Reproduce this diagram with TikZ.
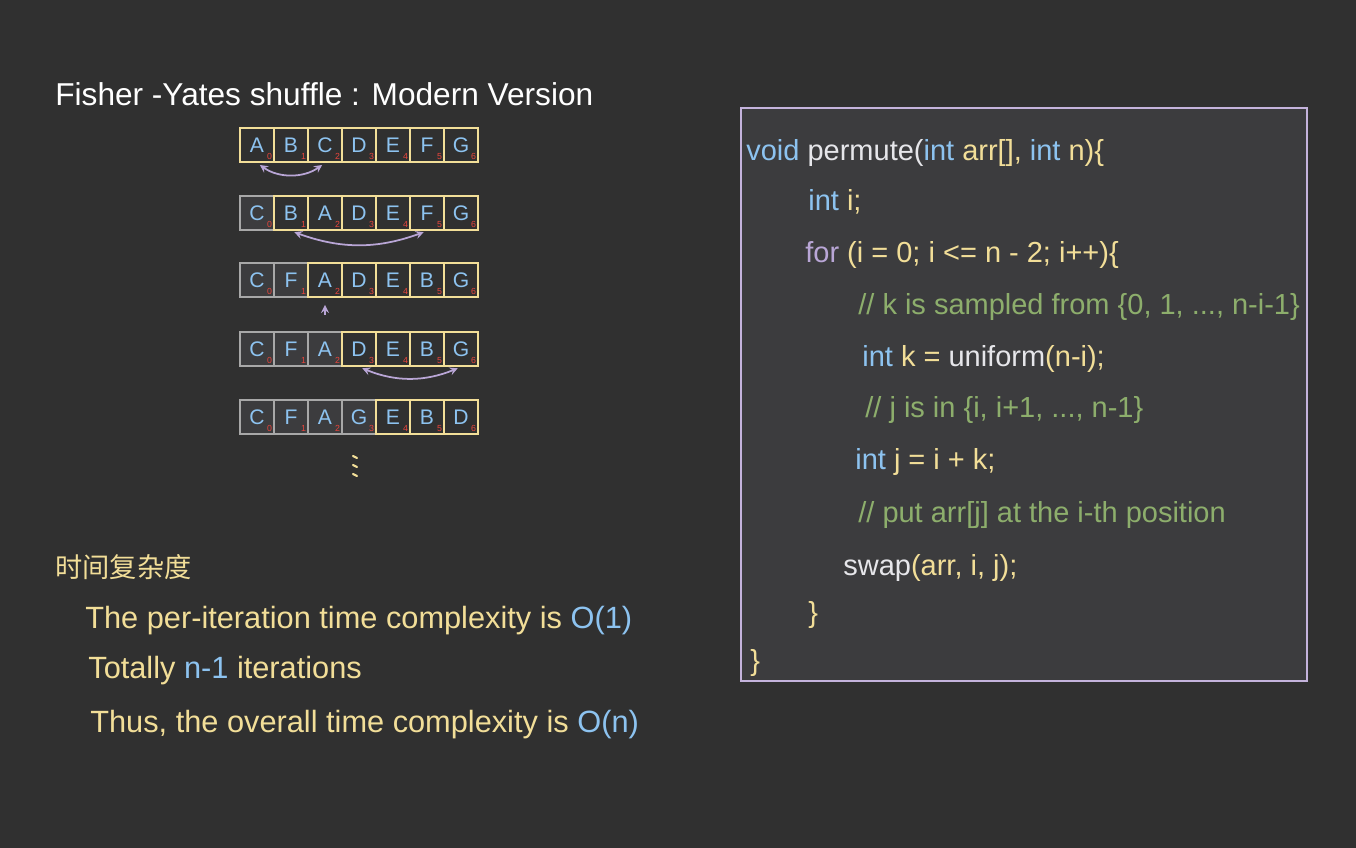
\documentclass[tikz,border=0pt]{standalone}
\usepackage{fontspec}
\setmainfont{Liberation Sans}
\newfontfamily\cjk{Noto Sans CJK SC}
\usepackage{xcolor}
\usepackage{tikz}
\usetikzlibrary{calc, positioning}

\definecolor{board}{HTML}{303030}
\definecolor{panel}{HTML}{3C3C3E}
\definecolor{chalkblue}{HTML}{8DC3F0}
\definecolor{chalkyellow}{HTML}{F2DE98}
\definecolor{chalkgreen}{HTML}{8DAE6C}
\definecolor{chalkwhite}{HTML}{E6E6EA}
\definecolor{chalkpurple}{HTML}{B9A6D6}
\definecolor{chalkred}{HTML}{E8453C}
\definecolor{donegray}{HTML}{A8A8A8}

\tikzset{
  cellbox/.style={draw=chalkyellow, line width=1.1pt, minimum width=0.68cm,
    minimum height=0.68cm, inner sep=0pt, text=chalkblue,
    font=\fontsize{12}{12}\selectfont},
  donebox/.style={cellbox, draw=donegray, fill=panel},
  idx/.style={text=chalkred, font=\fontsize{5}{5}\selectfont, inner sep=1.5pt,
    anchor=south east},
  swaparrow/.style={<->, >=stealth, chalkpurple, line width=1pt,
    shorten <=2pt, shorten >=2pt},
  codeline/.style={anchor=base west, inner sep=0pt,
    font=\fontsize{16.5}{16.5}\selectfont},
  noteline/.style={anchor=base west, inner sep=0pt, text=chalkyellow,
    font=\fontsize{17.5}{17.5}\selectfont},
}

\begin{document}
\begin{tikzpicture}[x=0.02cm, y=-0.02cm]
    % Nền bảng
    \fill[board] (0,0) rectangle (1356,848);
    \useasboundingbox (0,0) rectangle (1356,848);

    % Tiêu đề
    \node[anchor=base west, inner sep=0pt, text=white,
      font=\fontsize{18}{18}\selectfont] (title) at (55,106)
      {Fisher -Yates shuffle : Modern Version};

    % Các mảng sau từng bước
    \foreach \row/\yy/\done/\letters in {1/145/0/{A,B,C,D,E,F,G},
        2/213/1/{C,B,A,D,E,F,G}, 3/280/2/{C,F,A,D,E,B,G},
        4/349/3/{C,F,A,D,E,B,G}, 5/417/4/{C,F,A,G,E,B,D}} {
      \foreach \ch [count=\k from 0] in \letters {
        \ifnum\k<\done \def\sty{donebox}\else\def\sty{cellbox}\fi
        \node[\sty] (r\row c\k) at ({257+34*\k},\yy) {\ch};
        \node[idx] (i\row c\k) at (r\row c\k.south east) {\k};
      }
    }

    % Hoán đổi
    \draw[swaparrow] (r1c0.south) to[bend right=35] (r1c2.south);
    \draw[swaparrow] (r2c1.south) to[bend right=20] (r2c5.south);
    \coordinate (up) at (325,315);
    \draw[->, >=stealth, chalkpurple, line width=1pt, shorten >=4pt] (up) -- (r3c2.south);
    \draw[swaparrow] (r4c3.south) to[bend right=22] (r4c6.south);
    \foreach \d in {456,465,474}
      \draw[chalkyellow, line width=1.2pt, line cap=round] (353,\d) -- (357,\d+2);

    % Khung mã
    \draw[chalkpurple!85!white, fill=panel, line width=1pt] (741,108) rectangle (1307,681);
    \node[codeline] (c1) at (746,160) {\textcolor{chalkblue}{void}
      \textcolor{chalkwhite}{permute(}\textcolor{chalkblue}{int}
      \textcolor{chalkyellow}{arr[],} \textcolor{chalkblue}{int}
      \textcolor{chalkyellow}{n)\{}};
    \node[codeline] (c2) at (808,210) {\textcolor{chalkblue}{int}
      \textcolor{chalkyellow}{i;}};
    \node[codeline] (c3) at (805,262) {\textcolor{chalkpurple}{for}
      \textcolor{chalkyellow}{(i = 0; i <= n - 2; i++)\{}};
    \node[codeline, text=chalkgreen] (c4) at (858,314)
      {// k is sampled from \{0, 1, ..., n-i-1\}};
    \node[codeline] (c5) at (862,366) {\textcolor{chalkblue}{int}
      \textcolor{chalkyellow}{k =} \textcolor{chalkwhite}{uniform}\textcolor{chalkyellow}{(n-i);}};
    \node[codeline, text=chalkgreen] (c6) at (865,417)
      {// j is in \{i, i+1, ..., n-1\}};
    \node[codeline] (c7) at (855,469) {\textcolor{chalkblue}{int}
      \textcolor{chalkyellow}{j = i + k;}};
    \node[codeline, text=chalkgreen] (c8) at (858,522)
      {// put arr[j] at the i-th position};
    \node[codeline] (c9) at (843,575) {\textcolor{chalkwhite}{swap}\textcolor{chalkyellow}{(arr, i, j);}};
    \node[codeline, text=chalkyellow] (c10) at (808,622) {\}};
    \node[codeline, text=chalkyellow] (c11) at (750,670) {\}};

    % Độ phức tạp
    \node[noteline, font=\fontsize{15.5}{15.5}\selectfont] (cx) at (55,577) {\cjk 时间复杂度};
    \node[noteline] (n1) at (85,628)
      {The per-iteration time complexity is \textcolor{chalkblue}{O(1)}};
    \node[noteline] (n2) at (88,678)
      {Totally \textcolor{chalkblue}{n-1} iterations};
    \node[noteline] (n3) at (90,732)
      {Thus, the overall time complexity is \textcolor{chalkblue}{O(n)}};
\end{tikzpicture}
\end{document}
